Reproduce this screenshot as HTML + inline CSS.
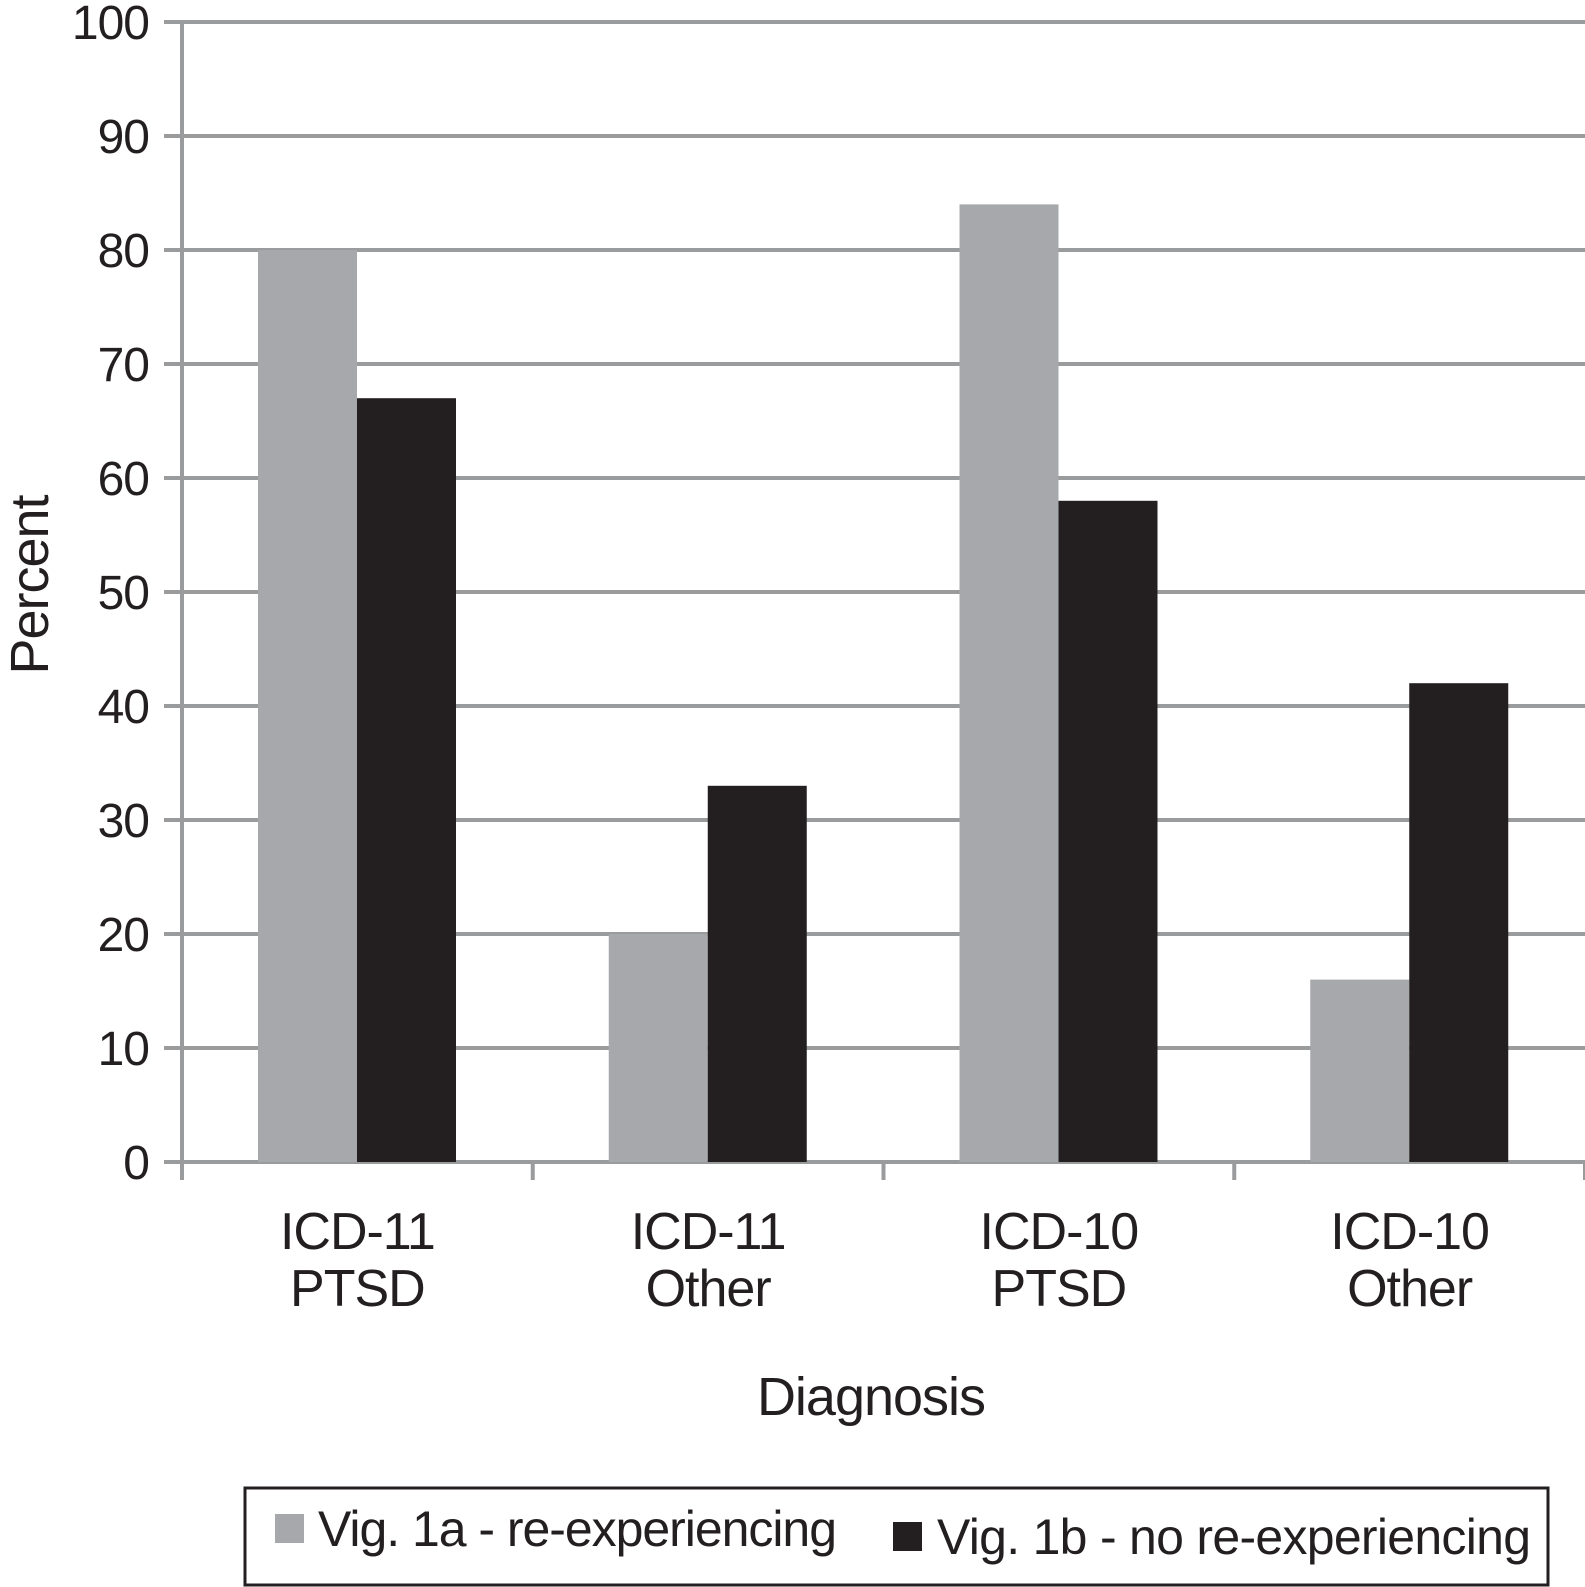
<!DOCTYPE html>
<html><head><meta charset="utf-8"><style>
body{margin:0;background:#fff;}
svg{display:block;font-family:"Liberation Sans",sans-serif;}
</style></head><body>
<svg id="chart" width="1585" height="1587">
<g id="grid"></g><g id="bars"></g><g id="axes"></g><g id="labels"></g>
<text transform="translate(48,585) rotate(-90)" text-anchor="middle" font-size="54" fill="#231f20" letter-spacing="-1">Percent</text>
<text x="871" y="1415" text-anchor="middle" font-size="54" fill="#231f20" letter-spacing="-1">Diagnosis</text>
<g>
<rect x="245" y="1488" width="1303" height="97" fill="#fff" stroke="#231f20" stroke-width="3"/>
<rect x="275" y="1514" width="29" height="29" fill="#a7a8ab"/>
<text x="318" y="1546" font-size="50" fill="#231f20" letter-spacing="-1" textLength="518">Vig. 1a - re-experiencing</text>
<rect x="893" y="1522" width="29" height="29" fill="#231f20"/>
<text x="937" y="1554" font-size="50" fill="#231f20" letter-spacing="-1" textLength="593">Vig. 1b - no re-experiencing</text>
</g>
</svg>
<script>
const categories=[["ICD-11","PTSD"],["ICD-11","Other"],["ICD-10","PTSD"],["ICD-10","Other"]];
const seriesA=[80,20,84,16];
const seriesB=[67,33,58,42];
const yTicks=[0,10,20,30,40,50,60,70,80,90,100];
const NS="http://www.w3.org/2000/svg";
const x0=182,x1=1585,y0=1162,yTop=22;
const catW=(x1-x0)/categories.length;
const y=v=>y0-(v/100)*(y0-yTop);
function mk(tag,attrs,parent){const e=document.createElementNS(NS,tag);for(const k in attrs)e.setAttribute(k,attrs[k]);document.getElementById(parent).appendChild(e);return e;}
yTicks.forEach(t=>{
 const l=mk('line',{x1:x0-18,x2:x1,y1:y(t),y2:y(t),stroke:'#9a9b9d','stroke-width':4},'grid');
 
 
 const tx=mk('text',{x:149,y:y(t)+17,'text-anchor':'end','font-size':48,fill:'#231f20','letter-spacing':-1},'labels');
 tx.textContent=t;
 
 
});
const bw=99,off=76;
categories.forEach((c,i)=>{
 const cx=x0+i*catW;
 const a=mk('rect',{x:cx+off,y:y(seriesA[i]),width:bw,height:y0-y(seriesA[i]),fill:'#a7a8ab'},'bars');
 
 
 const b=mk('rect',{x:cx+off+bw,y:y(seriesB[i]),width:bw,height:y0-y(seriesB[i]),fill:'#231f20'},'bars');
 
 
 c.forEach((s,j)=>{
  const t=mk('text',{x:cx+catW/2,y:1249+j*57,'text-anchor':'middle','font-size':52,fill:'#231f20','letter-spacing':-1},'labels');
  t.textContent=s;
  
  
 });
});
for(let i=0;i<=categories.length;i++){
 const tk=mk('line',{x1:x0+i*catW,x2:x0+i*catW,y1:y0,y2:y0+18,stroke:'#9a9b9d','stroke-width':4},'axes');
 
 
}
const ax=mk('line',{x1:x0,x2:x0,y1:yTop,y2:y0+18,stroke:'#9a9b9d','stroke-width':4},'axes');


</script>
</body></html>
